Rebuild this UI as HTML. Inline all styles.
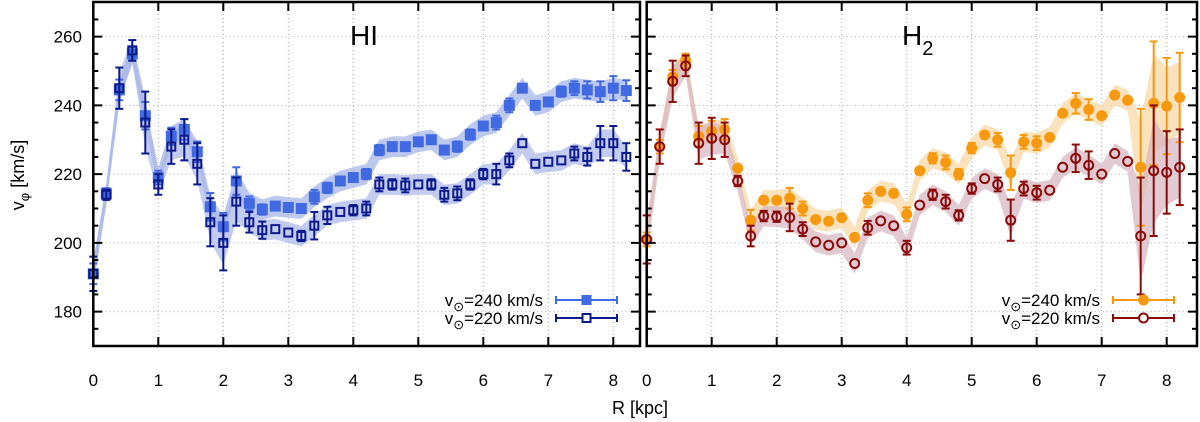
<!DOCTYPE html>
<html><head><meta charset="utf-8"><style>
body{margin:0;background:#fff;}
svg{display:block;font-family:"Liberation Sans",sans-serif;}
</style></head><body>
<svg id="chart" width="1200" height="422" viewBox="0 0 1200 422" xmlns="http://www.w3.org/2000/svg"></svg>
<script>
const radii = [0,0.2,0.4,0.6,0.8,1.0,1.2,1.4,1.6,1.8,2.0,2.2,2.4,2.6,2.8,3.0,3.2,3.4,3.6,3.8,4.0,4.2,4.4,4.6,4.8,5.0,5.2,5.4,5.6,5.8,6.0,6.2,6.4,6.6,6.8,7.0,7.2,7.4,7.6,7.8,8.0,8.2];
const hiV240 = [191,214.4,244.5,255,237,219,231,233,226.5,210.5,204.7,218,211.5,209.7,210.7,210.3,210,213.4,216,218,219,220,227,228,228,229.4,230,227,228,231.5,234,235,240,245,240,241,244,245,244.5,244,245,244.3];
const hiE240 = [3,1.5,3,2,4,2,2.5,3,3,4,4,4,2,1.5,1,1,1,2,1.5,1,1,1.5,1.5,1,1,1,1,1,1.5,1.5,1,2,2,1,1,1,1.5,2,2.5,3,3.5,3];
const hiV220 = [191,214,245,256,235,217,228,230,223,206,200,212,206,203.7,204,203,202,205,208,209,209.5,210,217,217,216.7,217,217,214,214.4,217,220,220,224,229,223,223.6,224,226,225,229,229,225];
const hiE220 = [5,1.5,6,3,9,3,5,6,6,7,8,7,3,2.5,1,1,1.5,4,2.5,1,1.5,2,2,1.5,2,1,1.5,2,2,1.5,1.5,3,2,1,1,1,1,2,2.5,5,5,4];
const h2V240 = [201,228,248.3,253,231,232.5,233,221.7,206.6,212.4,212.4,213,210,206.8,206.3,207.3,201.6,212.4,215,214.4,208.3,221,224.6,223.4,220,227.6,231.4,230,220.4,229.4,229,230.7,237.7,240.6,238.8,237,243,241.5,222,240.6,239.8,242.3];
const h2E240 = [2,2,2,2,3,3,3,1,3,1,1,3,2,1,1,1,1,2,1,1,2,1,1.5,2,1.5,1.5,1,2,5,2,2,1,1,3,3,1,1,1,17,18,14,13];
const h2V220 = [201,228,247,251.5,229,230.4,230,218,202,207.8,207.6,207.4,204,200.3,199.3,200,194,204.4,206.4,205,198.6,211,214,212,208,215.8,218.7,217,206.6,215.8,214.6,215.3,222,224.6,222.6,220,226,223.7,202,221,220.5,222];
const h2E220 = [7,5,6,3,6,6,5,1.5,3,1.5,1.5,4,2,1,1,1,1,2,1,1,2,1,1.5,2,1.5,1.5,1,2,6,2,2,1,1,4,4,1,1,1,17,19,12,11];
const yTicks = [180,200,220,240,260];
const xTicks = [0,1,2,3,4,5,6,7,8];

const svg = document.getElementById('chart');
const NS = 'http://www.w3.org/2000/svg';
function el(tag, attrs, parent){const e=document.createElementNS(NS,tag);for(const k in attrs)e.setAttribute(k,attrs[k]);(parent||svg).appendChild(e);return e;}

const TOP=2, BOT=346;
function yScale(v){return 346 - (v-170)*3.4375;}

function panel(name, x0, x1, s1v, s1e, s2v, s2e, c1, c2, b1, b2, marker, title, legendTextEnd){
  const g = el('g',{});
  
  
  const xs = r => x0 + r*65;
  xTicks.forEach(t=>{ if(t>0){ const l=el('line',{x1:xs(t),x2:xs(t),y1:TOP,y2:BOT,stroke:'#aaa','stroke-width':1,'stroke-dasharray':'1,3'},g);  }});
  yTicks.forEach(t=>{ const l=el('line',{x1:x0,x2:x1,y1:yScale(t),y2:yScale(t),stroke:'#aaa','stroke-width':1,'stroke-dasharray':'1,3'},g);  });
  function band(vals, errs, col, nm){
    let up=[],dn=[];
    radii.forEach((r,i)=>{const w=Math.max(3,errs[i]*0.8);up.push(xs(r)+','+yScale(vals[i]+w));dn.unshift(xs(r)+','+yScale(vals[i]-w));});
    const p=el('polygon',{points:up.concat(dn).join(' '),fill:col,opacity:0.7},g);
    
    
  }
  band(s1v,s1e,b1,name+'-band-240');
  band(s2v,s2e,b2,name+'-band-220');
  function series(vals, errs, col, filled, nm){
    radii.forEach((r,i)=>{
      const x=xs(r), y=yScale(vals[i]), e=errs[i];
      const gg=el('g',{},g);
      
      
      if(e>1.2){
        el('line',{x1:x,x2:x,y1:yScale(vals[i]+e),y2:yScale(vals[i]-e),stroke:col,'stroke-width':2},gg);
        el('line',{x1:x-4,x2:x+4,y1:yScale(vals[i]+e),y2:yScale(vals[i]+e),stroke:col,'stroke-width':2},gg);
        el('line',{x1:x-4,x2:x+4,y1:yScale(vals[i]-e),y2:yScale(vals[i]-e),stroke:col,'stroke-width':2},gg);
      }
      if(marker==='square'){
        if(filled) el('rect',{x:x-5.5,y:y-5.5,width:11,height:11,fill:col},gg);
        else el('rect',{x:x-4,y:y-4,width:8,height:8,fill:'none',stroke:col,'stroke-width':2},gg);
      } else {
        if(filled) el('circle',{cx:x,cy:y,r:5.5,fill:col},gg);
        else el('circle',{cx:x,cy:y,r:4.5,fill:'none',stroke:col,'stroke-width':2},gg);
      }
    });
  }
  series(s1v,s1e,c1,true,name+'-v240');
  series(s2v,s2e,c2,false,name+'-v220');
  const f=el('rect',{x:x0,y:TOP,width:x1-x0,height:BOT-TOP,fill:'none',stroke:'#000','stroke-width':2.5},g);
   
  xTicks.forEach(t=>{ if(t>0){ el('line',{x1:xs(t),x2:xs(t),y1:BOT,y2:BOT-9,stroke:'#000','stroke-width':2},g); el('line',{x1:xs(t),x2:xs(t),y1:TOP,y2:TOP+9,stroke:'#000','stroke-width':2},g);}
    const tx=el('text',{x:xs(t),y:386,'font-size':17,'text-anchor':'middle'},g); tx.textContent=t;
     });
  for(let v=175;v<=265;v+=5){ const len=(v%20===0)?9:5;
    el('line',{x1:x0,x2:x0+len,y1:yScale(v),y2:yScale(v),stroke:'#000','stroke-width':2},g);
    el('line',{x1:x1,x2:x1-len,y1:yScale(v),y2:yScale(v),stroke:'#000','stroke-width':2},g);}
  const tt=el('text',{x:title.x,y:45,'font-size':28},g);
  if(title.sub){tt.textContent='H';const ts=el('tspan',{dy:10,'font-size':20},tt);ts.textContent='2';}else tt.textContent=title.t;
   
  [[c1,true,'240',300],[c2,false,'220',318]].forEach(([c,fl,v,ly])=>{
    const lg=el('g',{},g);
    
    
    const t=el('text',{x:legendTextEnd,y:ly+6,'font-size':17,'text-anchor':'end'},lg);
    t.innerHTML='v<tspan dy="5" font-size="13">⊙</tspan><tspan dy="-5">='+v+' km/s</tspan>';
    const lx0=legendTextEnd+13, lx1=legendTextEnd+74, mx=(lx0+lx1)/2;
    el('line',{x1:lx0,x2:lx1,y1:ly,y2:ly,stroke:c,'stroke-width':2},lg);
    el('line',{x1:lx0,x2:lx0,y1:ly-4,y2:ly+4,stroke:c,'stroke-width':2},lg);
    el('line',{x1:lx1,x2:lx1,y1:ly-4,y2:ly+4,stroke:c,'stroke-width':2},lg);
    if(marker==='square'){ if(fl) el('rect',{x:mx-5,y:ly-5,width:10,height:10,fill:c},lg); else el('rect',{x:mx-4,y:ly-4,width:8,height:8,fill:'#fff',stroke:c,'stroke-width':2},lg);}
    else { if(fl) el('circle',{cx:mx,cy:ly,r:5.5,fill:c},lg); else el('circle',{cx:mx,cy:ly,r:4.5,fill:'#fff',stroke:c,'stroke-width':2},lg);}
  });
}
panel('hi',93.3,640,hiV240,hiE240,hiV220,hiE220,'#4169e1','#0b1a8c','#9fb0e6','#aab6e8','square',{t:'HI',x:350},543);
panel('h2',646.7,1197,h2V240,h2E240,h2V220,h2E220,'#f7990f','#8b0a0a','#f7d6a0','#d4b4bd','circle',{sub:true,x:902},1100);
yTicks.forEach(t=>{const tx=el('text',{x:82,y:yScale(t)+6,'font-size':17,'text-anchor':'end'});tx.textContent=t;
   });
const xt=el('text',{x:640,y:414,'font-size':18,'text-anchor':'middle'}); xt.textContent='R [kpc]';
 
const yt=el('text',{x:0,y:0,'font-size':18,'text-anchor':'middle',transform:'translate(24,175) rotate(-90)'});
yt.innerHTML='v<tspan dy="5" font-size="13">φ</tspan><tspan dy="-5"> [km/s]</tspan>';
 
</script>
</body></html>
